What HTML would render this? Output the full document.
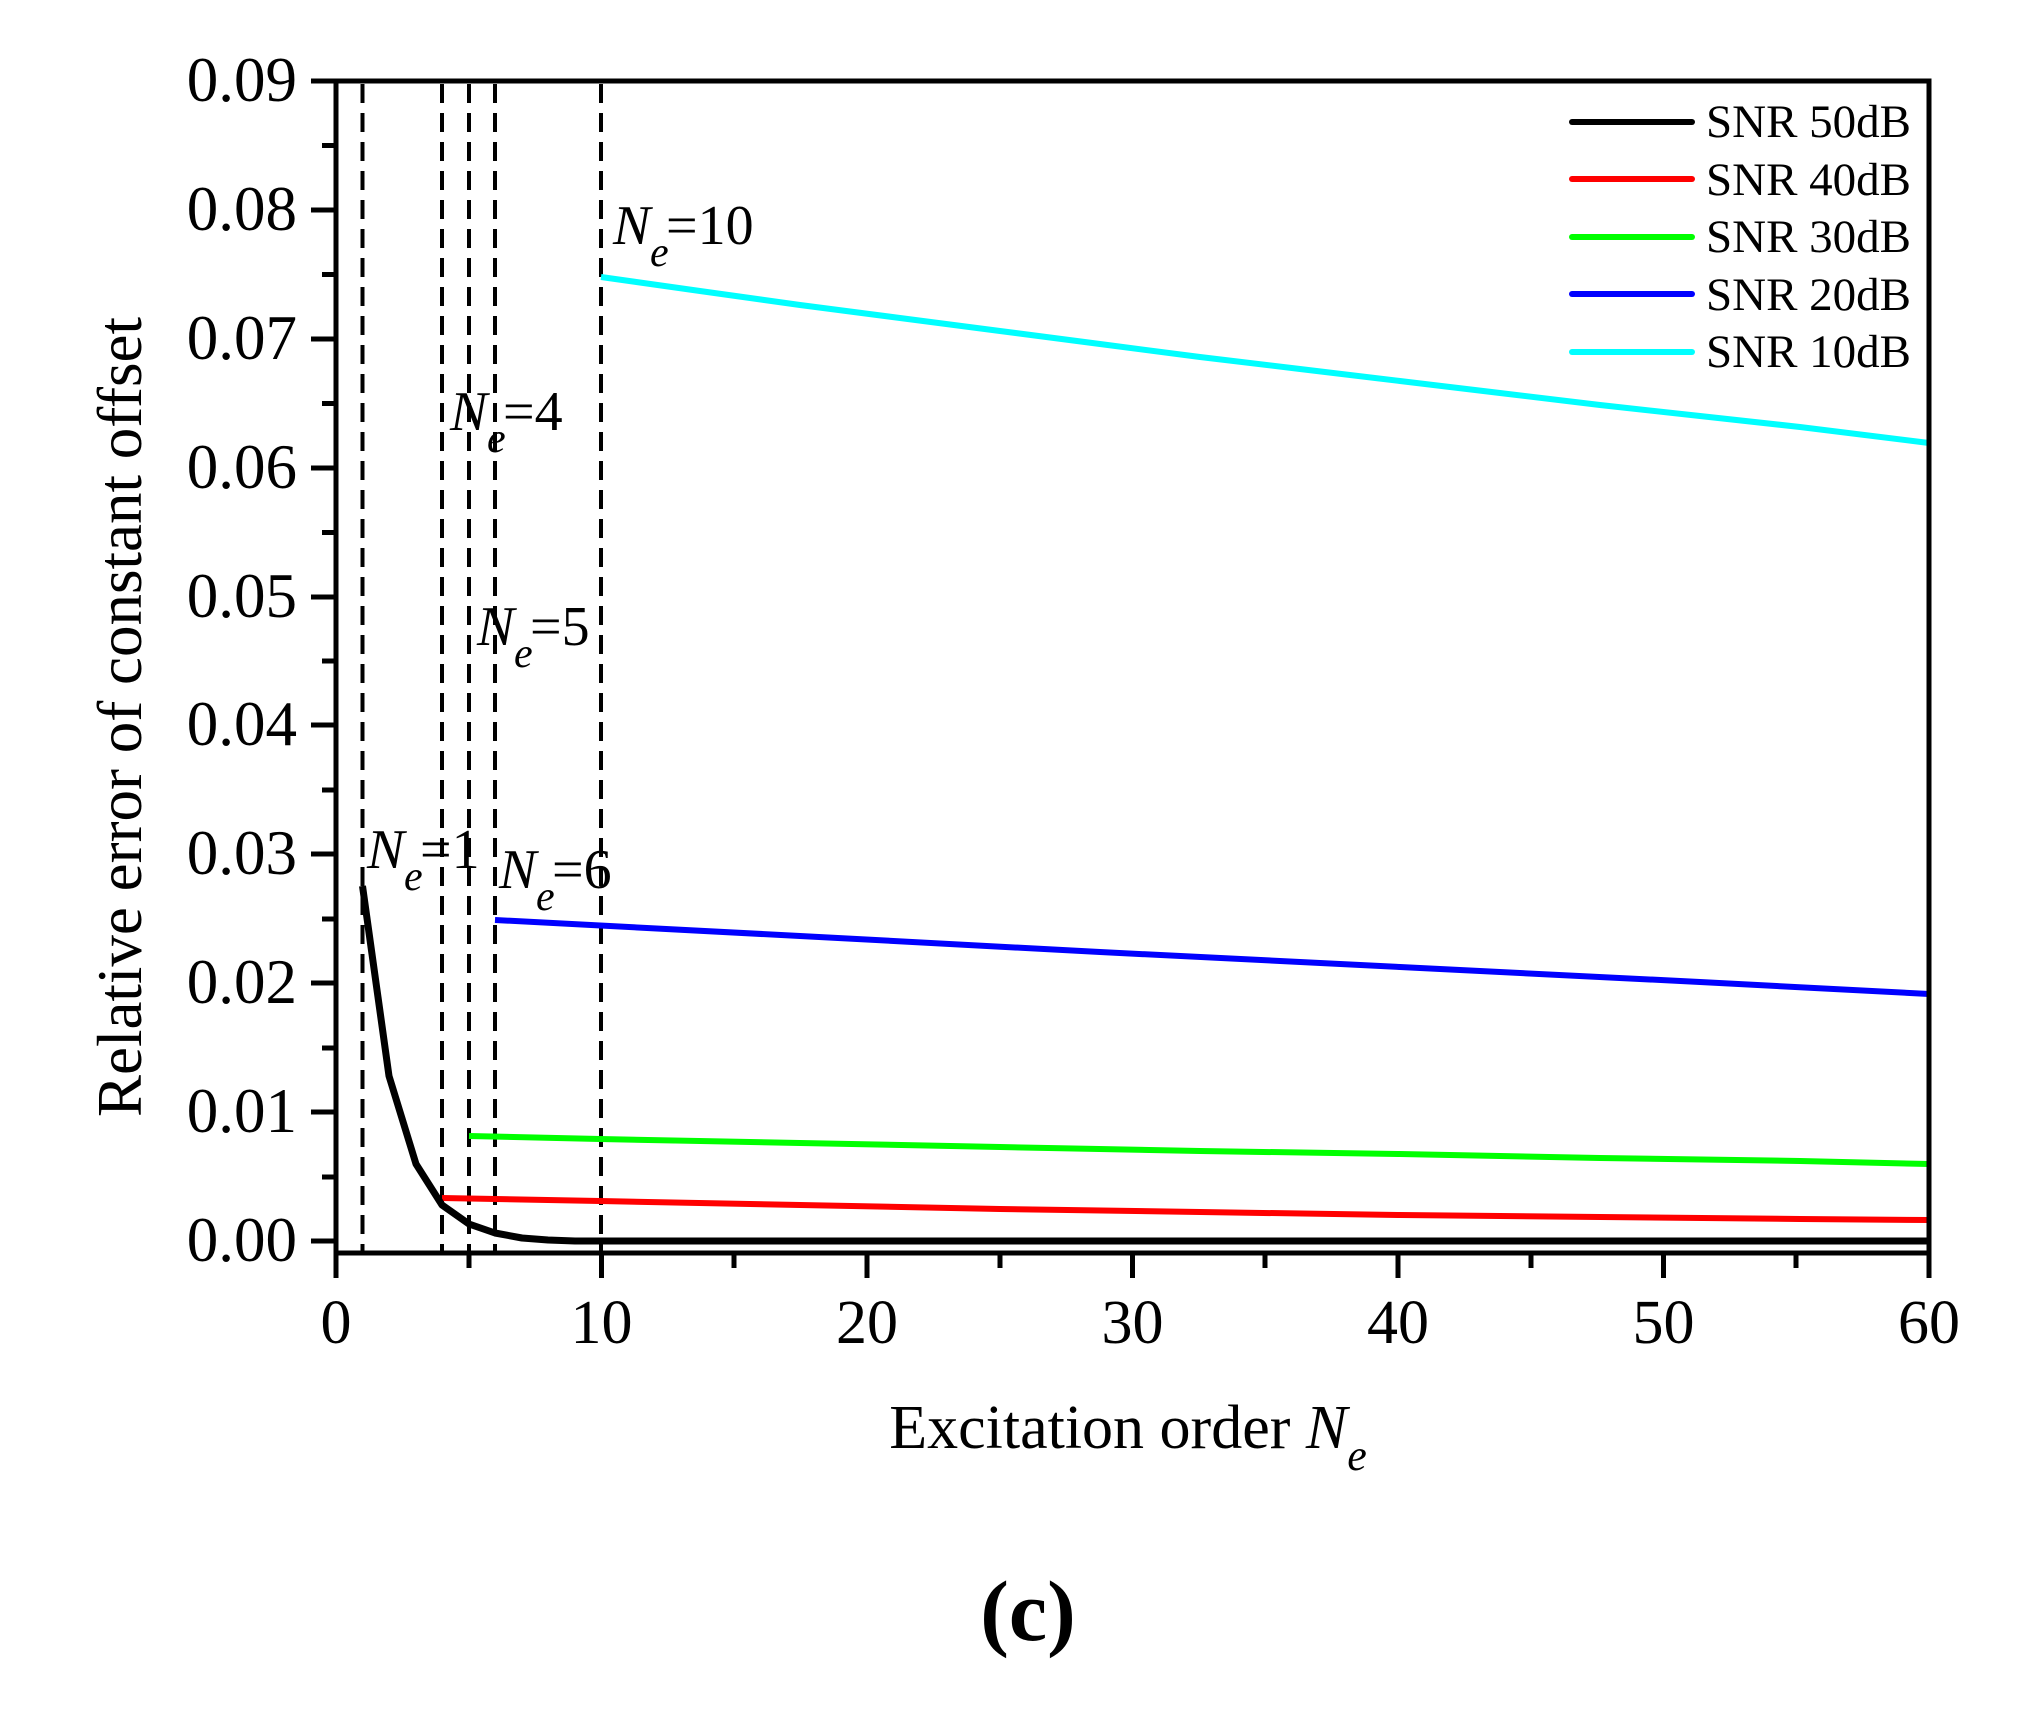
<!DOCTYPE html>
<html><head><meta charset="utf-8"><style>
html,body{margin:0;padding:0;background:#fff;}
svg{display:block;font-family:"Liberation Serif",serif;}
</style></head><body>
<svg width="2034" height="1711" viewBox="0 0 2034 1711" xmlns="http://www.w3.org/2000/svg">
<rect width="2034" height="1711" fill="#fff"/>
<g stroke="#000" stroke-width="4" stroke-dasharray="19,10" fill="none">
<line x1="362.5" y1="84" x2="362.5" y2="1253"/>
<line x1="442" y1="84" x2="442" y2="1253"/>
<line x1="469" y1="84" x2="469" y2="1253"/>
<line x1="495" y1="84" x2="495" y2="1253"/>
<line x1="601" y1="84" x2="601" y2="1253"/>
</g>
<g fill="none" stroke-width="6" stroke-linejoin="round">
<polyline stroke="#00ffff" points="601,277 700,291 800,305 900,318 1000,331 1100,344 1200,357 1300,369 1400,381 1500,393 1600,405 1700,416 1800,427 1929,443"/>
<polyline stroke="#0000ff" points="495,920 800,936 1100,952 1400,967 1700,982 1929,994"/>
<polyline stroke="#00ff00" points="469,1136 600,1139 800,1143 1000,1147 1200,1151 1400,1154 1600,1158 1800,1161 1929,1164"/>
<polyline stroke="#ff0000" points="442,1198 600,1201 800,1205 1000,1209 1200,1212 1400,1215 1600,1217 1800,1219 1929,1220"/>
<polyline stroke="#000" stroke-width="7" points="362.5,886 389,1076 416,1164 442,1205 469,1224 495,1233 522,1238 548,1240 575,1241 1929,1241"/>
</g>
<rect x="336" y="81" width="1593" height="1172" fill="none" stroke="#000" stroke-width="5"/>
<g stroke="#000" stroke-width="5">
<line x1="311" y1="81" x2="336" y2="81"/><line x1="311" y1="210" x2="336" y2="210"/><line x1="311" y1="339" x2="336" y2="339"/><line x1="311" y1="468" x2="336" y2="468"/><line x1="311" y1="597" x2="336" y2="597"/><line x1="311" y1="725" x2="336" y2="725"/><line x1="311" y1="854" x2="336" y2="854"/><line x1="311" y1="983" x2="336" y2="983"/><line x1="311" y1="1112" x2="336" y2="1112"/><line x1="311" y1="1241" x2="336" y2="1241"/>
<line x1="322" y1="145.5" x2="336" y2="145.5"/><line x1="322" y1="274.5" x2="336" y2="274.5"/><line x1="322" y1="403.5" x2="336" y2="403.5"/><line x1="322" y1="532.5" x2="336" y2="532.5"/><line x1="322" y1="661" x2="336" y2="661"/><line x1="322" y1="790" x2="336" y2="790"/><line x1="322" y1="919" x2="336" y2="919"/><line x1="322" y1="1048" x2="336" y2="1048"/><line x1="322" y1="1177" x2="336" y2="1177"/>
<line x1="336" y1="1253" x2="336" y2="1278"/><line x1="601.5" y1="1253" x2="601.5" y2="1278"/><line x1="867" y1="1253" x2="867" y2="1278"/><line x1="1132.5" y1="1253" x2="1132.5" y2="1278"/><line x1="1398" y1="1253" x2="1398" y2="1278"/><line x1="1663.5" y1="1253" x2="1663.5" y2="1278"/><line x1="1929" y1="1253" x2="1929" y2="1278"/>
<line x1="469" y1="1253" x2="469" y2="1268"/><line x1="734" y1="1253" x2="734" y2="1268"/><line x1="1000" y1="1253" x2="1000" y2="1268"/><line x1="1265" y1="1253" x2="1265" y2="1268"/><line x1="1531" y1="1253" x2="1531" y2="1268"/><line x1="1796" y1="1253" x2="1796" y2="1268"/>
</g>
<g font-size="63" text-anchor="end" fill="#000">
<text x="297" y="101">0.09</text><text x="297" y="230">0.08</text><text x="297" y="359">0.07</text><text x="297" y="488">0.06</text><text x="297" y="617">0.05</text><text x="297" y="745">0.04</text><text x="297" y="874">0.03</text><text x="297" y="1003">0.02</text><text x="297" y="1132">0.01</text><text x="297" y="1261">0.00</text>
</g>
<g font-size="62" text-anchor="middle" fill="#000">
<text x="336" y="1343">0</text><text x="601.5" y="1343">10</text><text x="867" y="1343">20</text><text x="1132.5" y="1343">30</text><text x="1398" y="1343">40</text><text x="1663.5" y="1343">50</text><text x="1929" y="1343">60</text>
</g>
<text x="1128" y="1448" font-size="62" text-anchor="middle">Excitation order <tspan font-style="italic">N</tspan><tspan font-style="italic" font-size="44" dy="22">e</tspan></text>
<text transform="translate(141,717) rotate(-90)" font-size="63" text-anchor="middle">Relative error of constant offset</text>
<text x="1028" y="1640" font-size="86" font-weight="bold" text-anchor="middle">(c)</text>
<g font-size="56" fill="#000">
<text x="367" y="868"><tspan font-style="italic">N</tspan></text><text x="404" y="890" font-size="42" font-style="italic">e</text><text x="420" y="868">=1</text>
<text x="499" y="888"><tspan font-style="italic">N</tspan></text><text x="536" y="910" font-size="42" font-style="italic">e</text><text x="552" y="888">=6</text>
<text x="450" y="430"><tspan font-style="italic">N</tspan></text><text x="487" y="452" font-size="42" font-style="italic">e</text><text x="503" y="430">=4</text>
<text x="477" y="645"><tspan font-style="italic">N</tspan></text><text x="514" y="667" font-size="42" font-style="italic">e</text><text x="530" y="645">=5</text>
<text x="613" y="244"><tspan font-style="italic">N</tspan></text><text x="650" y="266" font-size="42" font-style="italic">e</text><text x="666" y="244">=10</text>
</g>
<g stroke-width="6" stroke-linecap="round">
<line x1="1572" y1="122" x2="1692" y2="122" stroke="#000"/>
<line x1="1572" y1="179" x2="1692" y2="179" stroke="#ff0000"/>
<line x1="1572" y1="237" x2="1692" y2="237" stroke="#00ff00"/>
<line x1="1572" y1="294" x2="1692" y2="294" stroke="#0000ff"/>
<line x1="1572" y1="352" x2="1692" y2="352" stroke="#00ffff"/>
</g>
<g font-size="47" fill="#000">
<text x="1706" y="137">SNR 50dB</text>
<text x="1706" y="195">SNR 40dB</text>
<text x="1706" y="252">SNR 30dB</text>
<text x="1706" y="310">SNR 20dB</text>
<text x="1706" y="367">SNR 10dB</text>
</g>
</svg>
</body></html>
